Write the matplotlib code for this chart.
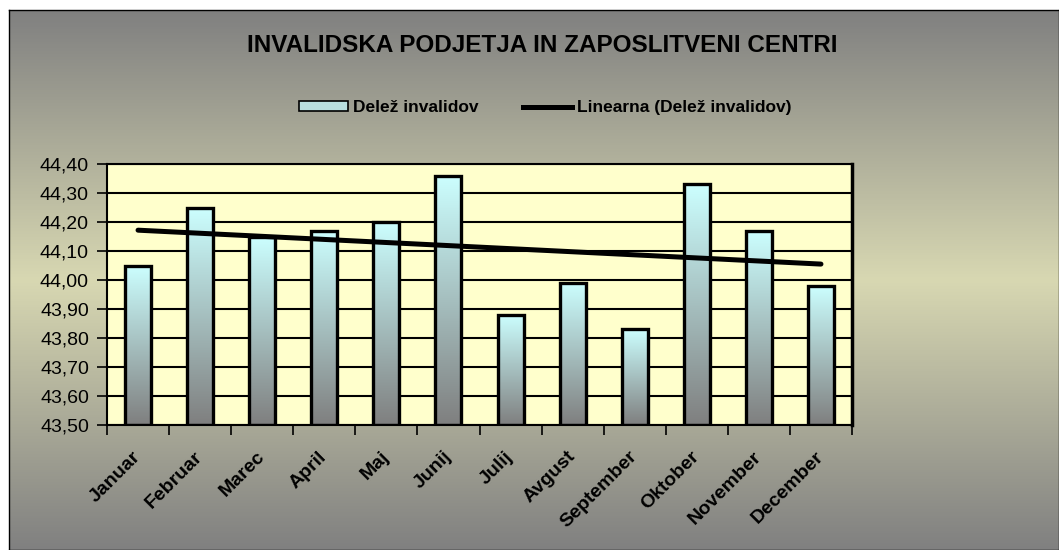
import numpy as np
import matplotlib.pyplot as plt
from matplotlib.colors import LinearSegmentedColormap
from matplotlib.patches import Patch
from matplotlib.lines import Line2D
from matplotlib.ticker import FuncFormatter, MultipleLocator

plt.rcParams['font.family'] = ['Liberation Sans', 'DejaVu Sans']

months = ['Januar', 'Februar', 'Marec', 'April', 'Maj', 'Junij',
          'Julij', 'Avgust', 'September', 'Oktober', 'November', 'December']
delez = [44.05, 44.25, 44.15, 44.17, 44.20, 44.36,
         43.88, 43.99, 43.83, 44.33, 44.17, 43.98]
title = 'INVALIDSKA PODJETJA IN ZAPOSLITVENI CENTRI'
bar_label = 'Delež invalidov'
trend_label = 'Linearna (Delež invalidov)'
ymin, ymax = 43.50, 44.40

fig = plt.figure(figsize=(10.59, 5.5), dpi=100)
fig.patch.set_facecolor('white')

# background: gray -> pale khaki -> gray
bg = fig.add_axes([9/1059, 0, 1 - 9/1059, 1 - 10/550], zorder=0)
bg_cmap = LinearSegmentedColormap.from_list(
    'bg', [(0, '#808080'), (0.5, '#d8d8b2'), (1, '#808080')])
bg.imshow(np.linspace(0, 1, 256).reshape(-1, 1), aspect='auto', cmap=bg_cmap,
          extent=[0, 1, 0, 1])
bg.set_xlim(0, 1)
bg.set_ylim(0, 1)
bg.set_xticks([])
bg.set_yticks([])
for s in bg.spines.values():
    s.set_linewidth(1)
    s.set_color('black')

ax = fig.add_axes([107/1059, 125/550, 745/1059, 261/550], zorder=1)
ax.set_facecolor('#ffffcc')

x = np.arange(len(months))
w = 0.42
bars = ax.bar(x, np.array(delez) - ymin, bottom=ymin, width=w,
              facecolor='none', edgecolor='black', linewidth=2.4, zorder=3)

# each bar: gray at the bottom, light cyan at the top
bar_cmap = LinearSegmentedColormap.from_list('bar', ['#7f7f7f', '#ccffff'])
grad = np.linspace(0, 1, 256).reshape(-1, 1)
for b in bars:
    im = ax.imshow(grad, cmap=bar_cmap, origin='lower', aspect='auto',
                   extent=[b.get_x(), b.get_x() + b.get_width(), ymin, b.get_y() + b.get_height()],
                   zorder=2)
    im.set_clip_path(b)

# linear trend
k, n = np.polyfit(x, delez, 1)
ax.plot(x, k * x + n, color='black', linewidth=3.6, zorder=4, solid_capstyle='round')

ax.set_xlim(-0.5, len(months) - 0.5)
ax.set_ylim(ymin, ymax)
ax.yaxis.set_major_locator(MultipleLocator(0.1))
ax.yaxis.set_major_formatter(FuncFormatter(lambda v, p: f'{v:.2f}'.replace('.', ',')))
ax.grid(axis='y', color='black', linewidth=1.5, zorder=1)
ax.set_axisbelow(True)

ax.set_xticks(np.arange(len(months) + 1) - 0.5, minor=False)
ax.set_xticklabels([])
ax.set_xticks(x, minor=True)
ax.set_xticklabels(months, minor=True, rotation=45, ha='right', va='center',
                   rotation_mode='anchor', fontsize=14, fontweight='bold')
ax.tick_params(axis='x', which='minor', length=0, pad=21)
ax.tick_params(axis='x', which='major', length=7, width=1.2, direction='out')
ax.tick_params(axis='y', length=7, width=1.2, direction='out', labelsize=14, pad=6)

for side in ['left', 'bottom', 'top']:
    ax.spines[side].set_linewidth(1.5)
ax.spines['right'].set_linewidth(2.5)

fig.text(0.512, 1 - 45/550, title, ha='center', va='center',
         fontsize=17.5, fontweight='bold')

handles = [Patch(facecolor='#b8dede', edgecolor='black', linewidth=1.2),
           Line2D([0], [0], color='black', linewidth=3.6)]
fig.legend(handles, [bar_label, trend_label], loc='center',
           bbox_to_anchor=(0.515, 1 - 108/550), ncol=2, frameon=False,
           prop={'size': 12.5, 'weight': 'bold'}, handlelength=2.8,
           handleheight=0.5, handletextpad=0.3, columnspacing=2.6)

fig.savefig('out.png', dpi=100)
